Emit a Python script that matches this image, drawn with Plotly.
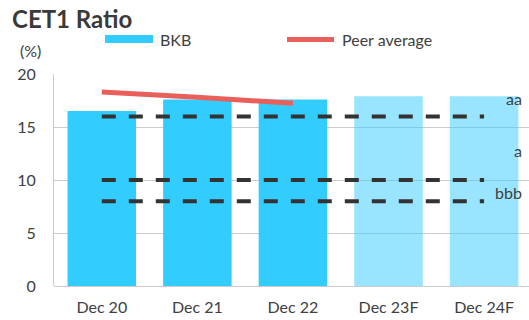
import plotly.graph_objects as go

categories = ["Dec 20", "Dec 21", "Dec 22", "Dec 23F", "Dec 24F"]
bkb_values = [16.5, 17.6, 17.6, 17.9, 17.9]
bkb_opacity = [1, 1, 1, 0.5, 0.5]
peer_categories = ["Dec 20", "Dec 21", "Dec 22"]
peer_values = [18.3, 17.8, 17.25]
rating_labels = ["aa", "a", "bbb"]
rating_thresholds = [16, 10, 8]
rating_label_shift = [18, 30, 9]
y_ticks = [0, 5, 10, 15, 20]

FONT = "Lato"
TXT = "#404040"
BLUE = "#33ccff"
RED = "#e9605b"

W, H = 529, 320
L, R, T, B = 54, 0, 74, 34
dw, dh = W - L - R, H - T - B

def pxx(x):
    return (x - L) / dw

def pxy(y):
    return (H - B - y) / dh

fig = go.Figure()
fig.add_trace(go.Bar(
    x=categories, y=bkb_values,
    marker=dict(color=BLUE, opacity=bkb_opacity, line=dict(width=0)),
    showlegend=False,
))
fig.add_trace(go.Scatter(
    x=peer_categories, y=peer_values, mode="lines",
    line=dict(color=RED, width=5, shape="spline", smoothing=0.6), showlegend=False,
))
for lbl, thr, sh in zip(rating_labels, rating_thresholds, rating_label_shift):
    fig.add_trace(go.Scatter(
        x=[categories[0], categories[-1]], y=[thr, thr], mode="lines",
        line=dict(color="#333333", width=4, dash="14px,13px"),
        showlegend=False,
    ))
    fig.add_annotation(
        x=0.99, xref="paper", y=thr, yref="y", yshift=sh,
        text=lbl, showarrow=False, xanchor="right", yanchor="middle",
        font=dict(family=FONT, size=16, color=TXT),
    )

# title and unit
fig.add_annotation(x=pxx(10), y=pxy(19), xref="paper", yref="paper", text="<b>CET1 Ratio</b>",
                   showarrow=False, xanchor="left", yanchor="middle",
                   font=dict(family=FONT, size=24, color="#3a3a3a"))
fig.add_annotation(x=pxx(18), y=pxy(50), xref="paper", yref="paper", text="(%)",
                   showarrow=False, xanchor="left", yanchor="middle",
                   font=dict(family=FONT, size=16, color=TXT))
# legend
fig.add_annotation(x=pxx(158), y=pxy(39), xref="paper", yref="paper", text="BKB",
                   showarrow=False, xanchor="left", yanchor="middle",
                   font=dict(family=FONT, size=16, color=TXT))
fig.add_annotation(x=pxx(340), y=pxy(39), xref="paper", yref="paper", text="Peer average",
                   showarrow=False, xanchor="left", yanchor="middle",
                   font=dict(family=FONT, size=16, color=TXT))

fig.add_shape(type="rect", xref="paper", yref="paper",
              x0=pxx(105), x1=pxx(153), y0=pxy(43), y1=pxy(35),
              fillcolor=BLUE, line=dict(width=0), layer="above")
fig.add_shape(type="line", xref="paper", yref="paper",
              x0=pxx(287), x1=pxx(334), y0=pxy(39.5), y1=pxy(39.5),
              line=dict(color=RED, width=5), layer="above")

fig.update_layout(
    width=W, height=H,
    margin=dict(l=L, r=R, t=T, b=B),
    paper_bgcolor="white", plot_bgcolor="white",
    bargap=0.283,
    font=dict(family=FONT, size=16, color=TXT),
    xaxis=dict(range=[-0.5, 4.47], showgrid=False, showline=False, ticks="",
               ticklabelstandoff=10,
               tickfont=dict(family=FONT, size=16, color=TXT), fixedrange=True),
    yaxis=dict(range=[0, 20], tickvals=y_ticks, showgrid=True, gridcolor="#cccccc", gridwidth=1,
               zeroline=True, zerolinecolor="#cccccc", zerolinewidth=1,
               showline=True, linecolor="#cccccc", linewidth=1, ticks="",
               ticklabelstandoff=14,
               tickfont=dict(family=FONT, size=16, color=TXT)),
)

fig.write_html("out.html")
